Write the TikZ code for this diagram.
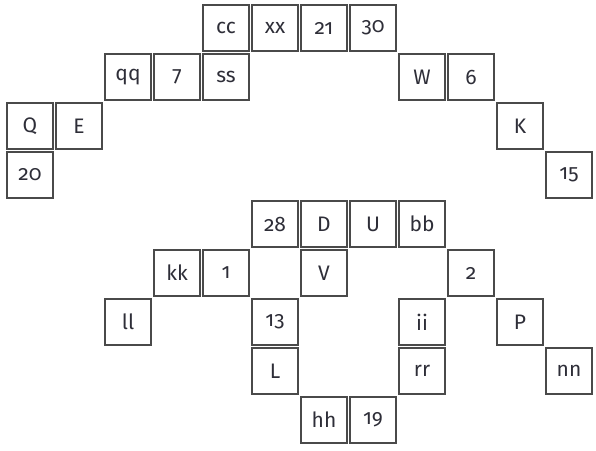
\documentclass[tikz,border=0pt]{standalone}
\usepackage{fontspec}
\setmainfont[Numbers=OldStyle]{Fira Sans}
\definecolor{boxline}{HTML}{4A4A4A}
\definecolor{boxtext}{HTML}{2E2E38}
\begin{document}
\begin{tikzpicture}[x=1pt, y=-1pt,
    cell/.style={draw=boxline, line width=1.4pt, text=boxtext,
      minimum size=46pt, inner sep=0pt, font=\fontsize{21pt}{21pt}\selectfont}]
    \useasboundingbox (0,0) rectangle (596,450);
    % column / row / label / name
    \foreach \c/\r/\t/\n in {4/0/cc/cc, 5/0/xx/xx, 6/0/21/21, 7/0/30/30,
        2/1/qq/qq, 3/1/7/7, 4/1/ss/ss, 8/1/W/W, 9/1/6/6,
        0/2/Q/Q, 1/2/E/E, 10/2/K/K,
        0/3/20/20, 11/3/15/15,
        5/4/28/28, 6/4/D/D, 7/4/U/U, 8/4/bb/bb,
        3/5/kk/kk, 4/5/1/1, 6/5/V/V, 9/5/2/2,
        2/6/ll/ll, 5/6/13/13, 8/6/ii/ii, 10/6/P/P,
        5/7/L/L, 8/7/rr/rr, 11/7/nn/nn,
        6/8/hh/hh, 7/8/19/19}
      \node[cell] (n\n) at ({30+49*\c}, {28+49*\r}) {\t};
\end{tikzpicture}
\end{document}
